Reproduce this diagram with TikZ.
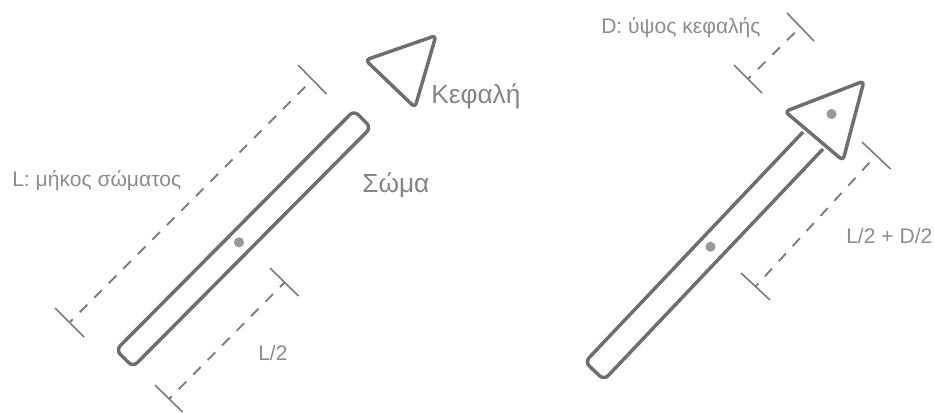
\documentclass[tikz,border=0pt]{standalone}
\usepackage{fontspec}
\setmainfont{Liberation Sans}
\usepackage{xcolor}
\usetikzlibrary{calc}
\definecolor{shape}{HTML}{6E6E6E}
\definecolor{dimen}{HTML}{7C7C7C}
\definecolor{mark}{HTML}{999999}
\definecolor{label}{HTML}{8C8C8C}

\begin{document}
\begin{tikzpicture}[
  x=0.75pt,y=-0.75pt,
  part/.style={draw=shape,line width=2.6pt,rounded corners=3pt,line join=round},
  endmark/.style={draw=dimen,line width=1.2pt},
  dimline/.style={draw=dimen,line width=1.4pt,dash pattern=on 8pt off 7.4pt,dash phase=5pt},
  centre/.style={fill=mark,draw=none},
  biglabel/.style={text=shape!85!white,inner sep=0pt,anchor=base west,font=\fontsize{19.7}{22}\selectfont},
  smalllabel/.style={text=label,inner sep=0pt,anchor=base west,font=\fontsize{15.8}{18}\selectfont}
]
\useasboundingbox (0,0) rectangle (934,412);

% separate parts
\draw[part,rounded corners=4.5pt] (354,110.5) -- (371,127.5) -- (133,367) -- (116,350) -- cycle;
\draw[part] (436,35.5) -- (365.5,60) -- (415,107.5) -- cycle;
\fill[centre] (239,242.3) circle (3.8pt);

% assembled arrow
\draw[part,rounded corners=4.5pt] (803,132) -- (585,362) -- (604,380) -- (823,149);
\draw[part,fill=white] (864,81) -- (785,111.5) -- (843,160.5) -- cycle;
\fill[centre] (831.5,114) circle (3.8pt);
\fill[centre] (710.5,246.7) circle (3.8pt);

% dimension ends
\coordinate (Ltop) at (312,80);
\coordinate (Lbot) at (70,322);
\coordinate (Htop) at (285,282);
\coordinate (Hbot) at (169,399);
\coordinate (Dtop) at (800.5,27);
\coordinate (Dbot) at (748,79);
\coordinate (Stop) at (876,155.5);
\coordinate (Sbot) at (755.5,286.5);

\foreach \a/\b/\c/\d in {298/65/326.5/94,55/308/84/337,270/268/298.5/296,155/385/182.5/412,
                         787/13/814/41,734/65/762/93,862/142/890.5/169,741/273/770/300}
  \draw[endmark] (\a,\b) -- (\c,\d);

\draw[dimline] (Lbot) -- (Ltop);
\draw[dimline] (Hbot) -- (Htop);
\draw[dimline] (Dbot) -- (Dtop);
\draw[dimline] (Sbot) -- (Stop);

% labels
\node[biglabel] (head) at (431,103) {Κεφαλή};
\node[biglabel] (body) at (362,192) {Σώμα};
\node[smalllabel] (len) at (12,186) {L: μήκος σώματος};
\node[smalllabel] (half) at (258,360) {L/2};
\node[smalllabel] (hgt) at (601,33) {D: ύψος κεφαλής};
\node[smalllabel] (sum) at (846,243) {L/2 + D/2};
\end{tikzpicture}
\end{document}
